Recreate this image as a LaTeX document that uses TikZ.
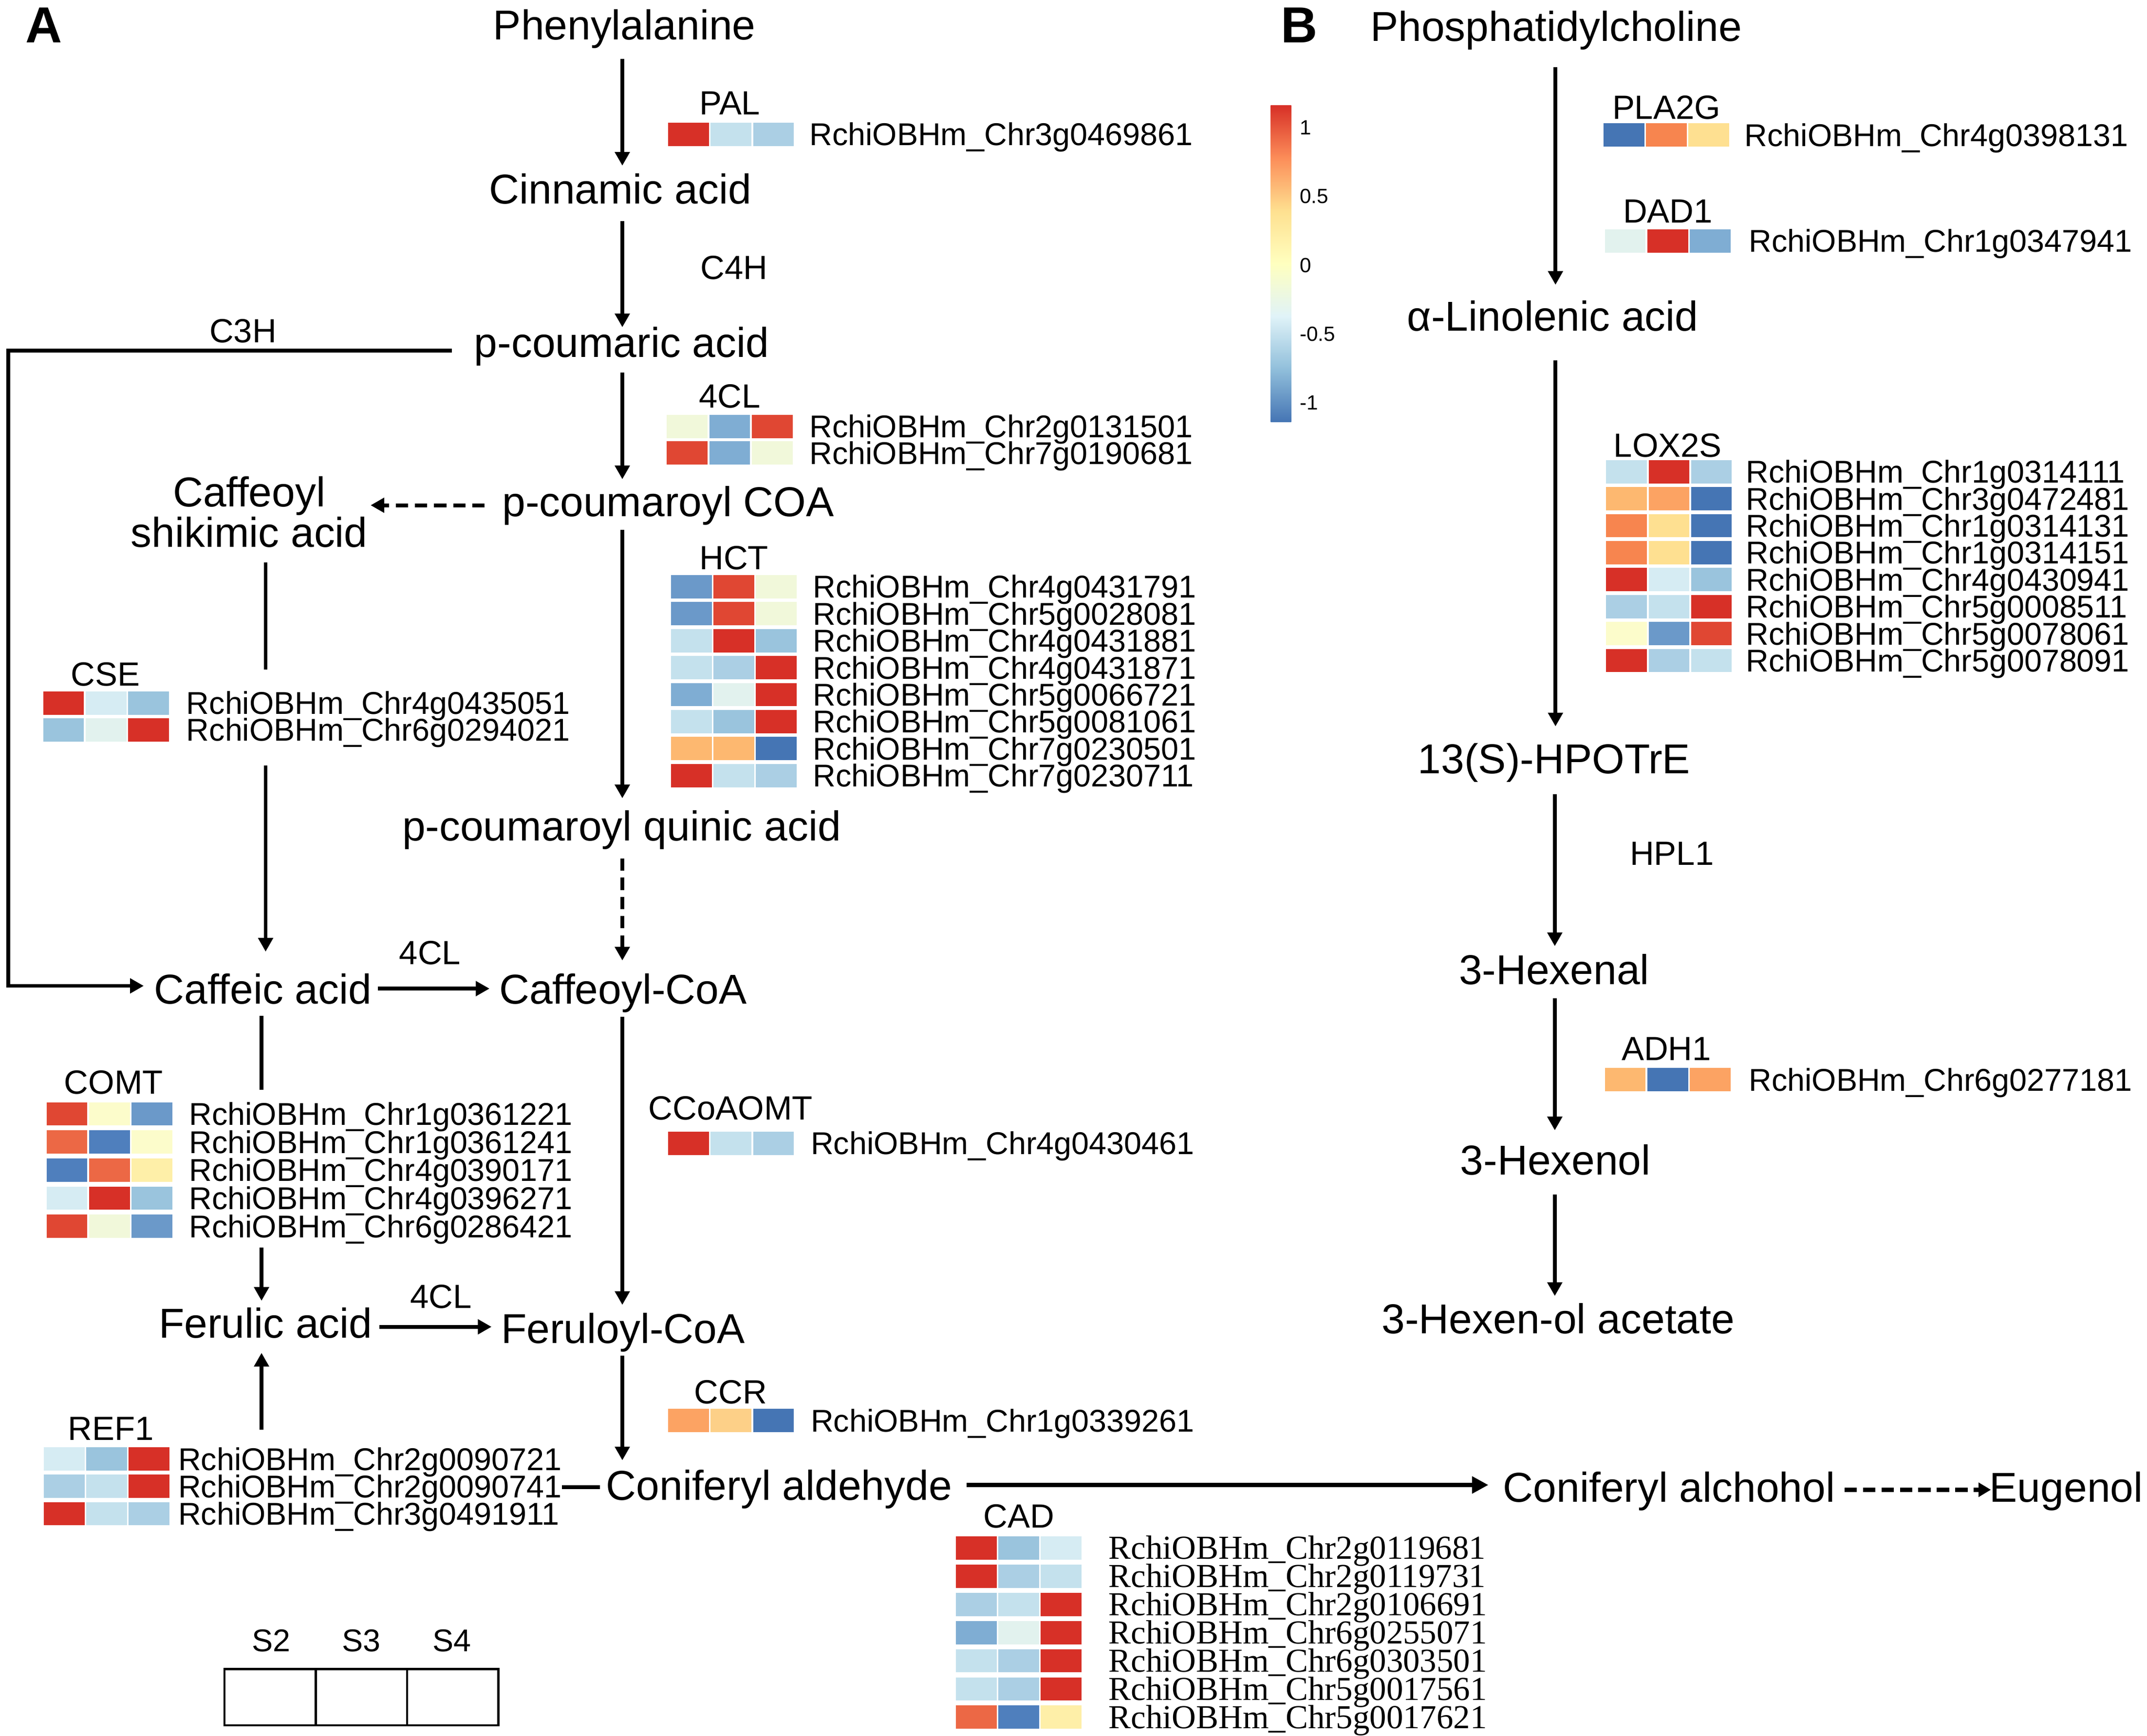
\documentclass[tikz,border=0pt]{standalone}
\usepackage{fontspec}
\setmainfont{Liberation Sans}
\newfontfamily\seriffont{Liberation Serif}
\usetikzlibrary{arrows.meta,calc}
\definecolor{R1}{HTML}{D73027}
\definecolor{R2}{HTML}{E04733}
\definecolor{O1}{HTML}{EC6845}
\definecolor{O2}{HTML}{F7854F}
\definecolor{O3}{HTML}{FCA363}
\definecolor{LO}{HTML}{FDB870}
\definecolor{Y1}{HTML}{FDD088}
\definecolor{Y2}{HTML}{FEE091}
\definecolor{Y3}{HTML}{FEEFA8}
\definecolor{Y4}{HTML}{FCFCCB}
\definecolor{YG}{HTML}{F1F8DA}
\definecolor{VG}{HTML}{E2F2EE}
\definecolor{B1}{HTML}{D6ECF3}
\definecolor{B2}{HTML}{C4E1ED}
\definecolor{B3}{HTML}{ABCFE4}
\definecolor{B4}{HTML}{9AC4DD}
\definecolor{B5}{HTML}{7FADD3}
\definecolor{B6}{HTML}{6B99C9}
\definecolor{B7}{HTML}{4575B4}
\definecolor{B8}{HTML}{4F7FBD}
\definecolor{CB1}{HTML}{D73027}
\definecolor{CB2}{HTML}{FC8D59}
\definecolor{CB3}{HTML}{FEE090}
\definecolor{CB4}{HTML}{FFFFBF}
\definecolor{CB5}{HTML}{E0F3F8}
\definecolor{CB6}{HTML}{91BFDB}
\definecolor{CB7}{HTML}{4575B4}
% #1 name, #2 x of cells, #3 y top of first row, #4 row pitch, #5 x of text, #6 text style, #7 rows
\newcommand\heatmap[7]{%
  \foreach \ca/\cb/\cc/\lab [count=\i from 0] in {#7}{%
    \pgfmathsetmacro\yy{#3+\i*#4}%
    \fill[\ca] (#2,\yy) rectangle ++(29.8,17);
    \fill[\cb] (#2+31,\yy) rectangle ++(29.8,17);
    \fill[\cc] (#2+62,\yy) rectangle ++(29.8,17);
    \node[#6] (#1-\i) at (#5,\yy+16.7) {\lab};
  }}
\begin{document}
\begin{tikzpicture}[x=1pt,y=-1pt,
  met/.style={font=\fontsize{30.5}{27}\selectfont, inner sep=0pt, anchor=base},
  enz/.style={font=\fontsize{24.5}{24.5}\selectfont, inner sep=0pt, anchor=base},
  gene/.style={font=\fontsize{23}{23}\selectfont, inner sep=0pt, anchor=base west},
  genes/.style={font=\seriffont\fontsize{24.5}{24.5}\selectfont, inner sep=0pt, anchor=base west},
  tick/.style={font=\fontsize{15}{15}\selectfont, inner sep=0pt, anchor=base west},
  panel/.style={font=\bfseries\fontsize{37}{37}\selectfont, inner sep=0pt, anchor=base},
  lnk/.style={line width=2.8pt},
  arr/.style={line width=2.8pt, -{Triangle[length=10pt,width=10.5pt]}},
  darr/.style={arr, dash pattern=on 9pt off 5pt},
  tarr/.style={line width=3.5pt, -{Triangle[length=12pt,width=12pt]}},
  earr/.style={line width=3.3pt, dash pattern=on 9pt off 4.5pt, -{Triangle[length=9pt,width=10pt]}},
]
\useasboundingbox (0,0) rectangle (1568,1267.8);
\fill[white] (0,0) rectangle (1568,1267.8);

% panel labels
\node[panel] (A) at (32,31) {A};
\node[panel] (B) at (949,31) {B};

% ---------- Panel A metabolites ----------
\node[met] (phe) at (456,29) {Phenylalanine};
\node[met] (cin) at (453,149) {Cinnamic acid};
\node[met] (pcou) at (454,261) {p-coumaric acid};
\node[met] (pcoa) at (488,377) {p-coumaroyl COA};
\node[met, anchor=center, align=center] (cs) at (182,374) {Caffeoyl\\shikimic acid};
\node[met] (pq) at (454,614) {p-coumaroyl quinic acid};
\node[met] (caf) at (192,733) {Caffeic acid};
\node[met] (cafcoa) at (455,733) {Caffeoyl-CoA};
\node[met] (fer) at (194,977) {Ferulic acid};
\node[met] (fercoa) at (455,981) {Feruloyl-CoA};
\node[met] (conald) at (569,1095.5) {Coniferyl aldehyde};
\node[met] (conalc) at (1219,1097) {Coniferyl alchohol};
\node[met] (eug) at (1509,1097) {Eugenol};

% ---------- Panel B metabolites ----------
\node[met] (pc) at (1136.5,30) {Phosphatidylcholine};
\node[met] (lin) at (1134,241.5) {α-Linolenic acid};
\node[met] (hpot) at (1135,565) {13(S)-HPOTrE};
\node[met] (hexal) at (1135,719) {3-Hexenal};
\node[met] (hexol) at (1136,858) {3-Hexenol};
\node[met] (acet) at (1138,974) {3-Hexen-ol acetate};

% ---------- enzyme labels ----------
\node[enz] (ePAL) at (533,83.8) {PAL};
\node[enz] (eC4H) at (536,203.8) {C4H};
\node[enz] (e4CLa) at (533,297.8) {4CL};
\node[enz] (eHCT) at (536,415.8) {HCT};
\node[enz] (eC3H) at (177.5,250.3) {C3H};
\node[enz] (eCSE) at (77,500.8) {CSE};
\node[enz] (e4CLb) at (314,704.4) {4CL};
\node[enz] (eCOMT) at (83,798.8) {COMT};
\node[enz] (eCCoAOMT) at (533.5,817.8) {CCoAOMT};
\node[enz] (e4CLc) at (322,955.4) {4CL};
\node[enz] (eREF1) at (81,1051.8) {REF1};
\node[enz] (eCCR) at (533.5,1025.2) {CCR};
\node[enz] (eCAD) at (744,1115.8) {CAD};
\node[enz] (ePLA2G) at (1217,86.8) {PLA2G};
\node[enz] (eDAD1) at (1218,162.8) {DAD1};
\node[enz] (eLOX2S) at (1218,333.8) {LOX2S};
\node[enz] (eHPL1) at (1221,631.8) {HPL1};
\node[enz] (eADH1) at (1217,774.4) {ADH1};

% ---------- heatmaps ----------
\heatmap{pal}{488}{89.6}{19.5}{591}{gene}{R1/B2/B3/RchiOBHm\_Chr3g0469861}
\heatmap{cla}{487}{303}{19.3}{591}{gene}{YG/B5/R2/RchiOBHm\_Chr2g0131501, R2/B5/YG/RchiOBHm\_Chr7g0190681}
\heatmap{hct}{490}{420}{19.7}{593.5}{gene}{%
 B6/R2/YG/RchiOBHm\_Chr4g0431791,
 B6/R2/YG/RchiOBHm\_Chr5g0028081,
 B2/R1/B4/RchiOBHm\_Chr4g0431881,
 B2/B3/R1/RchiOBHm\_Chr4g0431871,
 B5/VG/R1/RchiOBHm\_Chr5g0066721,
 B2/B4/R1/RchiOBHm\_Chr5g0081061,
 LO/LO/B7/RchiOBHm\_Chr7g0230501,
 R1/B2/B3/RchiOBHm\_Chr7g0230711}
\heatmap{cse}{31.5}{505}{19.5}{136}{gene}{R1/B1/B4/RchiOBHm\_Chr4g0435051, B4/VG/R1/RchiOBHm\_Chr6g0294021}
\heatmap{comt}{34}{805}{20.5}{138}{gene}{%
 R2/Y4/B6/RchiOBHm\_Chr1g0361221,
 O1/B8/Y4/RchiOBHm\_Chr1g0361241,
 B8/O1/Y3/RchiOBHm\_Chr4g0390171,
 B1/R1/B4/RchiOBHm\_Chr4g0396271,
 R2/YG/B6/RchiOBHm\_Chr6g0286421}
\heatmap{ccoa}{488}{826.5}{19.5}{592}{gene}{R1/B2/B3/RchiOBHm\_Chr4g0430461}
\heatmap{ref1}{32}{1057}{20}{130}{gene}{%
 B1/B4/R1/RchiOBHm\_Chr2g0090721,
 B3/B2/R1/RchiOBHm\_Chr2g0090741,
 R1/B2/B3/RchiOBHm\_Chr3g0491911}
\heatmap{ccr}{488}{1029}{19.5}{592}{gene}{O3/Y1/B7/RchiOBHm\_Chr1g0339261}
\heatmap{cad}{698}{1122}{20.6}{809.5}{genes}{%
 R1/B4/B1/RchiOBHm\_Chr2g0119681,
 R1/B3/B2/RchiOBHm\_Chr2g0119731,
 B3/B2/R1/RchiOBHm\_Chr2g0106691,
 B5/VG/R1/RchiOBHm\_Chr6g0255071,
 B2/B3/R1/RchiOBHm\_Chr6g0303501,
 B2/B3/R1/RchiOBHm\_Chr5g0017561,
 O1/B8/Y3/RchiOBHm\_Chr5g0017621}
\heatmap{pla}{1171}{90}{19.5}{1274}{gene}{B7/O2/Y2/RchiOBHm\_Chr4g0398131}
\heatmap{dad}{1172}{167.5}{19.5}{1277}{gene}{VG/R1/B5/RchiOBHm\_Chr1g0347941}
\heatmap{lox}{1173}{336}{19.7}{1275}{gene}{%
 B2/R1/B3/RchiOBHm\_Chr1g0314111,
 LO/O3/B7/RchiOBHm\_Chr3g0472481,
 O2/Y2/B7/RchiOBHm\_Chr1g0314131,
 O2/Y2/B7/RchiOBHm\_Chr1g0314151,
 R1/B1/B4/RchiOBHm\_Chr4g0430941,
 B3/B2/R1/RchiOBHm\_Chr5g0008511,
 Y4/B6/R2/RchiOBHm\_Chr5g0078061,
 R1/B3/B2/RchiOBHm\_Chr5g0078091}
\heatmap{adh}{1172}{780}{19.5}{1277}{gene}{LO/B7/O3/RchiOBHm\_Chr6g0277181}

% ---------- colour bar ----------
\shade[top color=CB1, bottom color=CB2] (928,77) rectangle (943,115.5);
\shade[top color=CB2, bottom color=CB3] (928,115.4) rectangle (943,154);
\shade[top color=CB3, bottom color=CB4] (928,153.9) rectangle (943,192.5);
\shade[top color=CB4, bottom color=CB5] (928,192.4) rectangle (943,231);
\shade[top color=CB5, bottom color=CB6] (928,230.9) rectangle (943,269.5);
\shade[top color=CB6, bottom color=CB7] (928,269.4) rectangle (943,308);
\node[tick] (t1) at (949,98.4) {1};
\node[tick] (t2) at (949,148.4) {0.5};
\node[tick] (t3) at (949,198.9) {0};
\node[tick] (t4) at (949,249) {-0.5};
\node[tick] (t5) at (949,299.4) {-1};

% ---------- legend ----------
\draw[line width=1.6pt] (164,1219) rectangle (364,1260);
\draw[line width=1.6pt] (230.7,1219) -- (230.7,1260);
\draw[line width=1.6pt] (297.3,1219) -- (297.3,1260);
\node[enz, font=\fontsize{23}{23}\selectfont] (s2) at (198,1206) {S2};
\node[enz, font=\fontsize{23}{23}\selectfont] (s3) at (264,1206) {S3};
\node[enz, font=\fontsize{23}{23}\selectfont] (s4) at (330,1206) {S4};

% ---------- connectors panel A ----------
\draw[arr] ($(phe.base)+(-1.5,14)$) -- ($(cin.base)+(1.5,-28)$);
\draw[arr] ($(cin.base)+(1.5,12.5)$) -- ($(pcou.base)+(0.5,-22)$);
\draw[arr] ($(pcou.base)+(0.5,11)$) -- ($(pcoa.base)+(-33.5,-27)$);
\draw[arr] ($(pcoa.base)+(-33.5,10)$) -- ($(pq.base)+(0.5,-31)$);
\draw[darr] ($(pq.base)+(0.5,13)$) -- ($(cafcoa.base)+(-0.5,-31.5)$);
\draw[arr] ($(cafcoa.base)+(-0.5,9.5)$) -- ($(fercoa.base)+(-0.5,-28)$);
\draw[arr] ($(fercoa.base)+(-0.5,9)$) -- ($(conald.base)+(-114.5,-29)$);
\draw[darr] ($(pcoa.base)+(-134,-8)$) -- ($(cs.east)+(2,-5)$);
\coordinate (cseT) at (194,489);
\coordinate (cseB) at (194,559);
\draw[lnk] ($(cs.south)+(12,10.6)$) -- (cseT);
\draw[arr] (cseB) -- ($(caf.base)+(2,-38)$);
\draw[arr] ($(pcou.base)+(-124,-5)$) -- ++(-324,0) -- ++(0,464) -- ($(caf.base)+(-87,-13)$);
\draw[arr] ($(caf.base)+(84,-11)$) -- ($(cafcoa.base)+(-97.5,-11)$);
\coordinate (comtT) at (191,796);
\coordinate (comtB) at (191,911);
\draw[lnk] ($(caf.base)+(-1,9)$) -- (comtT);
\draw[arr] (comtB) -- ($(fer.base)+(-3,-27)$);
\draw[arr] ($(fer.base)+(83,-8)$) -- ($(fercoa.base)+(-96,-12)$);
\coordinate (refT) at (191,1044);
\draw[arr] (refT) -- ($(fer.base)+(-3,11)$);
\coordinate (cal) at ($(conald.base)+(-131,-9.5)$);
\draw[lnk] (cal) -- (cal -| ref1-1.east);
\draw[tarr] ($(conald.base)+(137,-11)$) -- ($(conalc.base)+(-132,-12.5)$);
\draw[earr] ($(conalc.base)+(128,-9)$) -- ($(eug.base)+(-55,-9)$);

% ---------- connectors panel B ----------
\draw[arr] ($(pc.base)+(-0.5,19)$) -- ($(lin.base)+(2,-33.5)$);
\draw[arr] ($(lin.base)+(2,21.5)$) -- ($(hpot.base)+(1,-34.5)$);
\draw[arr] ($(hpot.base)+(0.5,15)$) -- ($(hexal.base)+(0.5,-28)$);
\draw[arr] ($(hexal.base)+(0.5,10)$) -- ($(hexol.base)+(-0.5,-32.5)$);
\draw[arr] ($(hexol.base)+(-0.5,14.5)$) -- ($(acet.base)+(-2.5,-27.5)$);
\end{tikzpicture}
\end{document}
